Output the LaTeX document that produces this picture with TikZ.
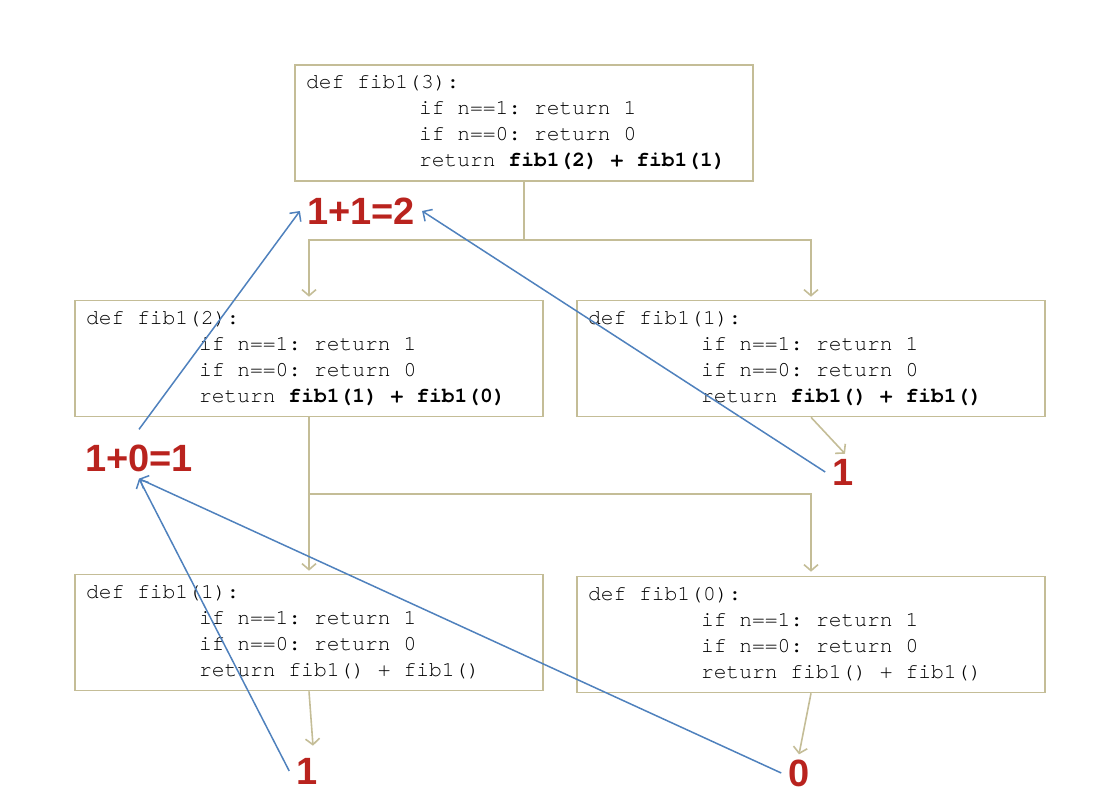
\documentclass[tikz,border=0pt]{standalone}
\usepackage{fontspec}
\setmainfont{Liberation Sans}
\setmonofont{TeX Gyre Cursor}[Ligatures={NoCommon,NoRequired,NoContextual}]
\usetikzlibrary{arrows.meta,positioning}
\definecolor{tan}{RGB}{196,189,151}
\definecolor{steel}{RGB}{79,129,189}
\definecolor{darkred}{RGB}{185,35,30}
\newcommand{\tb}{\hspace*{113pt}}
\newcommand{\codefont}{\ttfamily\fontsize{21.3}{26}\selectfont}
\newcommand{\codespace}{\spaceskip=12.8pt plus 0pt minus 0pt\xspaceskip=12.8pt\relax}

\begin{document}
\begin{tikzpicture}[x=1pt,y=-1pt,
  codebox/.style={draw=tan,line width=1.6pt,fill=white,minimum width=468pt,minimum height=116pt,text width=446pt,inner xsep=11pt,align=left,font=\codefont,execute at begin node=\codespace},
  res/.style={text=darkred,font=\bfseries\fontsize{38}{40}\selectfont,inner sep=7pt},
  flow/.style={draw=tan,line width=1.6pt,-{Straight Barb[length=6pt,width=14pt]}},
  back/.style={draw=steel,line width=1.5pt,-{Straight Barb[length=7pt,width=14pt]}}]
  \useasboundingbox (0,0) rectangle (1104,800);
  \node[codebox,minimum width=458pt,text width=436pt] (f3) at (524,123)
    {def fib1(3):\\ \tb if n==1: return 1\\ \tb if n==0: return 0\\ \tb return \textbf{fib1(2) + fib1(1)}};
  \node[codebox] (f2) at (309,358.5)
    {def fib1(2):\\ \tb if n==1: return 1\\ \tb if n==0: return 0\\ \tb return \textbf{fib1(1) + fib1(0)}};
  \node[codebox] (f1a) at (811,358.5)
    {def fib1(1):\\ \tb if n==1: return 1\\ \tb if n==0: return 0\\ \tb return \textbf{fib1() + fib1()}};
  \node[codebox] (f1b) at (309,632.5)
    {def fib1(1):\\ \tb if n==1: return 1\\ \tb if n==0: return 0\\ \tb return fib1() + fib1()};
  \node[codebox] (f0) at (811,634.5)
    {def fib1(0):\\ \tb if n==1: return 1\\ \tb if n==0: return 0\\ \tb return fib1() + fib1()};
  % results
  \node[res] (sum2) at (361,211) {1+1=2};
  \node[res] (sum1) at (139,458) {1+0=1};
  \node[res] (r1a) at (843,472) {1};
  \node[res] (r1b) at (307,771) {1};
  \node[res] (r0) at (799,773) {0};
  % calls
  \coordinate (j3) at (524,240);
  \coordinate (j2) at (309,494);
  \draw[draw=tan,line width=1.6pt] (f3.south) -- (j3);
  \draw[flow] (j3) -| ([yshift=3pt]f2.north);
  \draw[flow] (j3) -| ([yshift=3pt]f1a.north);
  \draw[draw=tan,line width=1.6pt] (f2.south) -- (j2);
  \draw[flow] (j2) -- ([yshift=3pt]f1b.north);
  \draw[flow] (j2) -| ([yshift=4pt]f0.north);
  \draw[flow] (f1a.south) -- ([xshift=2pt,yshift=-2pt]r1a.north);
  \draw[flow] (f1b.south) -- ([xshift=6pt,yshift=5pt]r1b.north);
  \draw[flow] (f0.south) -- ([yshift=-2pt]r0.north);
  % returns
  \draw[back] ([yshift=8pt]sum1.north) -- (sum2.west);
  \draw[back] (r1a.west) -- (sum2.east);
  \draw[back] (r1b.west) -- (sum1.south);
  \draw[back] (r0.west) -- (sum1.south);
\end{tikzpicture}
\end{document}
